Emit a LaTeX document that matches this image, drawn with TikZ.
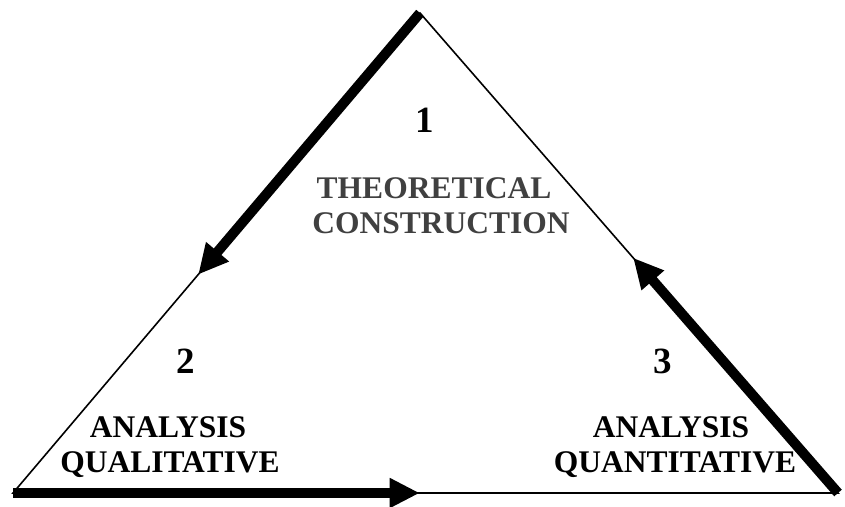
\documentclass[tikz,border=0pt]{standalone}
\usepackage{fontspec}
\setmainfont{Liberation Serif}
\usetikzlibrary{arrows.meta,calc}
\begin{document}
\begin{tikzpicture}[x=1pt, y=-1pt,
  >={Triangle[length=30pt, width=28pt]},
  stage/.style={font=\fontsize{31.5}{34}\selectfont\bfseries, anchor=base},
  num/.style={font=\fontsize{37}{40}\selectfont\bfseries, anchor=base},
  flow/.style={->, line width=10pt, line join=miter}]
\useasboundingbox (0,0) rectangle (845,506);
\coordinate (T) at (420,13);
\coordinate (L) at (13,493);
\coordinate (R) at (838,493);
\coordinate (TL) at ($(T)!0.545!(L)$);
\coordinate (LR) at ($(L)!0.493!(R)$);
\coordinate (RT) at ($(R)!0.49!(T)$);
\draw[line width=1.6pt] (T) -- (L) -- (R) -- cycle;
\draw[flow] (T) -- (TL);
\draw[flow] (L) -- (LR);
\draw[flow] (R) -- (RT);
% stage 1
\node[num] (one) at (425,132) {1};
\node[stage, text=black!75] (theory) at (434,198) {THEORETICAL};
\node[stage, text=black!75] (constr) at (441,233) {CONSTRUCTION};
% stage 2
\node[num] (two) at (186,373) {2};
\node[stage] (ana2) at (168,437) {ANALYSIS};
\node[stage] (qual) at (170,472) {QUALITATIVE};
% stage 3
\node[num] (three) at (663,373) {3};
\node[stage] (ana3) at (671,437) {ANALYSIS};
\node[stage] (quant) at (675,472) {QUANTITATIVE};
\end{tikzpicture}
\end{document}
